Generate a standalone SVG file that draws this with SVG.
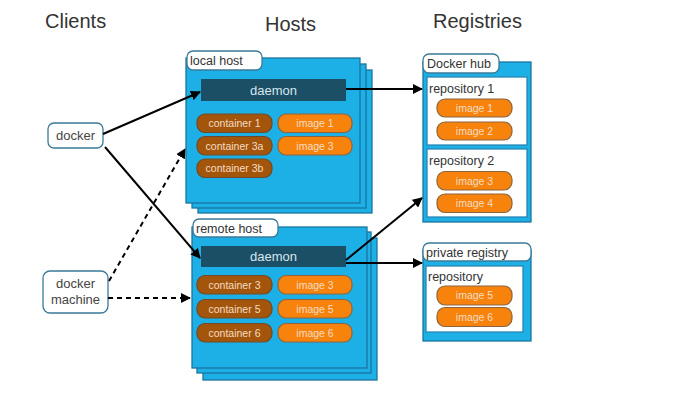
<svg xmlns="http://www.w3.org/2000/svg" width="681" height="409" viewBox="0 0 681 409">
<style>
text{font-family:"Liberation Sans",Arial,sans-serif}
.hdr{font-size:20px;fill:#333}
.blue{fill:#1cb0e6;stroke:#1d75a0;stroke-width:1.3}
.tab{fill:#fff;stroke:#3a7a98;stroke-width:1.3}
.lbl{font-size:12.5px;fill:#333}
.daemon{fill:#1b4f66}
.dtxt{font-size:13px;fill:#d6e6ee;text-anchor:middle}
.cont{fill:#a3560b;stroke:#6e4a2a;stroke-width:1.2}
.img{fill:#f8830c;stroke:#8a6440;stroke-width:1.2}
.ptxt{font-size:10.5px;fill:#f4dcc4;text-anchor:middle}
.repo{fill:#fff;stroke:#2a86b5;stroke-width:1.3}
.client{fill:#fff;stroke:#3a7a98;stroke-width:1.3}
.ctxt{font-size:13px;fill:#444;text-anchor:middle}
.solid{stroke:#000;stroke-width:2;fill:none;marker-end:url(#ah)}
.dash{stroke:#000;stroke-width:2;fill:none;stroke-dasharray:5 4;marker-end:url(#ah)}
</style>
<defs>
<marker id="ah" viewBox="0 0 10 10" refX="9" refY="5" markerWidth="5" markerHeight="5" orient="auto" markerUnits="strokeWidth">
<path d="M0,0 L10,5 L0,10 z" fill="#000"/>
</marker>
</defs>
<rect width="681" height="409" fill="#fff"/>
<text class="hdr" x="45" y="28">Clients</text>
<text class="hdr" x="265" y="31">Hosts</text>
<text class="hdr" x="433" y="28">Registries</text>

<g id="docker">
<rect class="client" x="48" y="123" width="55" height="25" rx="6"/>
<text class="ctxt" x="75.5" y="140">docker</text>
</g>
<g id="docker-machine">
<rect class="client" x="43" y="271" width="65" height="42" rx="7"/>
<text class="ctxt" x="75.5" y="288">docker</text>
<text class="ctxt" x="75.5" y="304">machine</text>
</g>

<g id="local-host">
<rect class="blue" x="198" y="70" width="174" height="143"/>
<rect class="blue" x="192" y="64" width="174" height="144"/>
<rect class="blue" x="186" y="58" width="174" height="145"/>
<rect class="tab" x="187" y="51" width="75" height="19" rx="6"/>
<text class="lbl" x="190" y="65">local host</text>
<rect class="daemon" x="201" y="79" width="145" height="22"/>
<text class="dtxt" x="273.5" y="95">daemon</text>
<rect class="cont" x="197" y="114" width="75" height="18.5" rx="8"/>
<text class="ptxt" x="234.5" y="127">container 1</text>
<rect class="cont" x="197" y="136.5" width="75" height="18.5" rx="8"/>
<text class="ptxt" x="234.5" y="149.5">container 3a</text>
<rect class="cont" x="197" y="159" width="75" height="18.5" rx="8"/>
<text class="ptxt" x="234.5" y="172">container 3b</text>
<rect class="img" x="278" y="114" width="74" height="18.5" rx="8"/>
<text class="ptxt" x="315" y="127">image 1</text>
<rect class="img" x="278" y="136.5" width="74" height="18.5" rx="8"/>
<text class="ptxt" x="315" y="149.5">image 3</text>
</g>

<g id="remote-host">
<rect class="blue" x="203" y="238" width="174" height="142"/>
<rect class="blue" x="197" y="232" width="174" height="141"/>
<rect class="blue" x="192" y="227" width="175" height="141"/>
<rect class="tab" x="193" y="219" width="85" height="18" rx="6"/>
<text class="lbl" x="196" y="232.5">remote host</text>
<rect class="daemon" x="201" y="246" width="145" height="21"/>
<text class="dtxt" x="273.5" y="261">daemon</text>
<rect class="cont" x="197" y="275.5" width="75" height="18.5" rx="8"/>
<text class="ptxt" x="234.5" y="288.5">container 3</text>
<rect class="cont" x="197" y="299.5" width="75" height="18.5" rx="8"/>
<text class="ptxt" x="234.5" y="312.5">container 5</text>
<rect class="cont" x="197" y="323.5" width="75" height="18.5" rx="8"/>
<text class="ptxt" x="234.5" y="336.5">container 6</text>
<rect class="img" x="278" y="275.5" width="74" height="18.5" rx="8"/>
<text class="ptxt" x="315" y="288.5">image 3</text>
<rect class="img" x="278" y="299.5" width="74" height="18.5" rx="8"/>
<text class="ptxt" x="315" y="312.5">image 5</text>
<rect class="img" x="278" y="323.5" width="74" height="18.5" rx="8"/>
<text class="ptxt" x="315" y="336.5">image 6</text>
</g>

<g id="docker-hub">
<rect class="blue" x="423" y="62" width="108" height="160"/>
<rect class="tab" x="423" y="54" width="76" height="19" rx="6"/>
<text class="lbl" x="427" y="68">Docker hub</text>
<rect class="repo" x="427" y="77" width="100" height="68"/>
<text class="lbl" x="429" y="93">repository 1</text>
<rect class="img" x="437" y="99" width="75" height="18" rx="8"/>
<text class="ptxt" x="474.5" y="111.5">image 1</text>
<rect class="img" x="437" y="122" width="75" height="18" rx="8"/>
<text class="ptxt" x="474.5" y="134.5">image 2</text>
<rect class="repo" x="427" y="149" width="100" height="68"/>
<text class="lbl" x="429" y="165">repository 2</text>
<rect class="img" x="437" y="171.5" width="75" height="18.5" rx="8"/>
<text class="ptxt" x="474.5" y="184.5">image 3</text>
<rect class="img" x="437" y="194" width="75" height="18.5" rx="8"/>
<text class="ptxt" x="474.5" y="207">image 4</text>
</g>

<g id="private-registry">
<rect class="blue" x="423" y="250" width="108" height="91"/>
<rect class="tab" x="423" y="243" width="108" height="18" rx="6"/>
<text class="lbl" x="426" y="256.5">private registry</text>
<rect class="repo" x="426" y="266" width="97" height="66"/>
<text class="lbl" x="428" y="281">repository</text>
<rect class="img" x="437" y="286" width="75" height="19" rx="8"/>
<text class="ptxt" x="474.5" y="299">image 5</text>
<rect class="img" x="437" y="307.5" width="75" height="19" rx="8"/>
<text class="ptxt" x="474.5" y="320.5">image 6</text>
</g>

<g id="connectors">
<line class="solid" x1="103" y1="134" x2="200" y2="92"/>
<line class="solid" x1="105" y1="147" x2="200" y2="258"/>
<line class="dash" x1="109" y1="281" x2="185" y2="149"/>
<line class="dash" x1="108" y1="298" x2="190" y2="298"/>
<line class="solid" x1="346" y1="89" x2="422" y2="89"/>
<line class="solid" x1="346" y1="260" x2="422" y2="198"/>
<line class="solid" x1="346" y1="263" x2="422" y2="263"/>
</g>
</svg>
